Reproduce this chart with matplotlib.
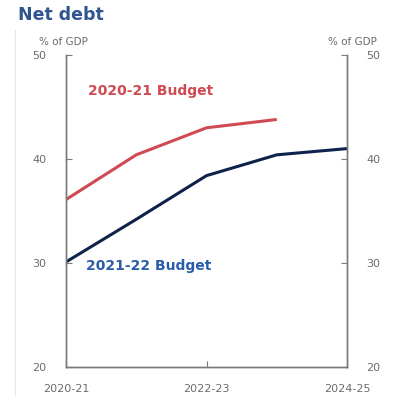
import numpy as np
from matplotlib import pyplot as plt

# financial years along the x axis
years = ['2020-21', '2021-22', '2022-23', '2023-24', '2024-25']
tick_years = ['2020-21', '2022-23', '2024-25']

# net debt, % of GDP
budget_2020 = [36.1, 40.4, 43.0, 43.8]
budget_2021 = [30.1, 34.2, 38.4, 40.4, 41.0]

red = '#cf4a52'
navy = '#0f2249'
label_blue = '#2b5ca8'
grey = '#6b6b6b'

fig = plt.figure(figsize=(3.95, 3.96), dpi=100)
ax = fig.add_axes([66/395, 1-367/396, (347-66)/395, (367-55)/396])

x = np.arange(len(years))
ax.plot(x[:len(budget_2020)], budget_2020, color=red, lw=2.2, solid_capstyle='butt')
ax.plot(x, budget_2021, color=navy, lw=2.2, solid_capstyle='butt')

ax.set_xlim(0, 4)
ax.set_ylim(20, 50)
ax.set_yticks([20, 30, 40, 50])
ax.set_xticks([0, 2, 4])
ax.set_xticklabels(tick_years)

# right hand axis mirrors the left
ax2 = ax.twinx()
ax2.set_ylim(20, 50)
ax2.set_yticks([20, 30, 40, 50])

for a in (ax, ax2):
    for s in a.spines.values():
        s.set_color('#7a7a7a')
        s.set_linewidth(1.0)
    a.spines['top'].set_visible(False)
    a.tick_params(direction='in', length=4, color='#7a7a7a', labelcolor=grey,
                  labelsize=8)
ax.tick_params(axis='y', pad=14)
ax2.tick_params(axis='y', pad=14)
ax.tick_params(axis='x', pad=12)

fig.text(18/395, 1-15/396, 'Net debt', fontsize=12.5, fontweight='bold',
         color='#2f5490', va='center', ha='left')
fig.text(63/395, 1-42/396, '% of GDP', fontsize=7.5, color=grey,
         va='center', ha='center')
fig.text(352/395, 1-42/396, '% of GDP', fontsize=7.5, color=grey,
         va='center', ha='center')

ax.text(0.31, 46.5, '2020-21 Budget', color=red, fontsize=10,
        fontweight='semibold', va='center', ha='left')
ax.text(0.28, 29.75, '2021-22 Budget', color=label_blue, fontsize=10,
        fontweight='semibold', va='center', ha='left')

# faint frame edge on the left of the screenshot
fig.add_artist(plt.Line2D([15/395, 15/395], [0, 1-30/396], color='#e6e6e6', lw=0.8))

plt.savefig('out.png', dpi=100)
